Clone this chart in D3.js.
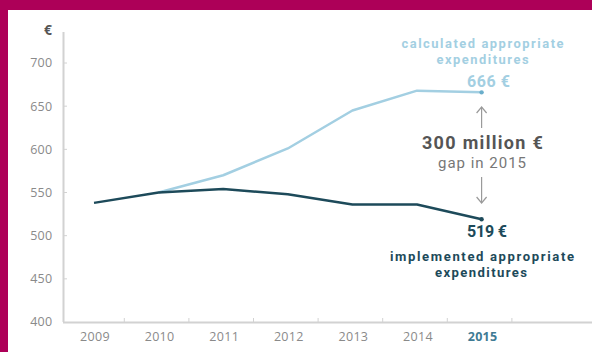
<!DOCTYPE html>
<html>
<head>
<meta charset="utf-8">
<script src="https://cdn.jsdelivr.net/npm/d3@7"></script>
<style>
  html, body { margin: 0; padding: 0; background: #ad0058; }
  svg { display: block; }
  text { font-family: "Open Sans", "DejaVu Sans", sans-serif; }
  .ann text { font-family: Roboto, "Open Sans", sans-serif; }
</style>
</head>
<body>
<svg id="chart" width="592" height="352"></svg>
<script>
const years = [2009, 2010, 2011, 2012, 2013, 2014, 2015];
const calculated = [null, 550, 570, 601, 645, 668, 666];
const implemented = [538, 550, 554, 548, 536, 536, 519];
const yTicks = [400, 450, 500, 550, 600, 650, 700];

const svg = d3.select("#chart");
const W = 592, H = 352;

// white panel inside magenta frame
svg.append("rect").attr("x", 8).attr("y", 10).attr("width", W - 8).attr("height", H - 10).attr("fill", "#ffffff");

const x = d3.scalePoint().domain(years).range([94, 481.6]);
const y = d3.scaleLinear().domain([400, 700]).range([322, 63]);
const step = x.step();

const axisCol = "#d2d2d2";
const tickTextCol = "#8a8a8a";
const lightCol = "#a3cfe2";
const darkCol = "#1d4a5a";

// y axis
svg.append("line").attr("x1", 63.5).attr("x2", 63.5).attr("y1", 32).attr("y2", 322)
  .attr("stroke", axisCol).attr("stroke-width", 2);
const yg = svg.append("g");
yg.selectAll("line.yt").data(yTicks.slice(1)).join("line")
  .attr("x1", 63).attr("x2", 67).attr("y1", d => y(d)).attr("y2", d => y(d))
  .attr("stroke", axisCol).attr("stroke-width", 1);
yg.selectAll("text").data(yTicks).join("text")
  .attr("x", 52.5).attr("y", d => y(d)).attr("dy", "0.35em")
  .attr("text-anchor", "end").attr("font-size", 12.5).attr("letter-spacing", 0.3).attr("fill", tickTextCol)
  .text(d => d);
svg.append("text").attr("x", 52).attr("y", 35).attr("text-anchor", "end")
  .attr("font-size", 14).attr("font-weight", "bold").attr("fill", "#555").text("€");

// x axis
svg.append("line").attr("x1", 63).attr("x2", W).attr("y1", 322.5).attr("y2", 322.5)
  .attr("stroke", axisCol).attr("stroke-width", 2);
svg.append("g").selectAll("line").data(years).join("line")
  .attr("x1", d => x(d) + step / 2 - 2).attr("x2", d => x(d) + step / 2 - 2)
  .attr("y1", 318).attr("y2", 322).attr("stroke", axisCol).attr("stroke-width", 1);
svg.append("g").selectAll("text").data(years).join("text")
  .attr("x", d => x(d) + 1).attr("y", 337).attr("dy", "0.35em")
  .attr("text-anchor", "middle").attr("font-size", 12.5).attr("letter-spacing", 0.3)
  .attr("font-weight", d => d === 2015 ? "bold" : "normal")
  .attr("fill", d => d === 2015 ? "#3f7b94" : tickTextCol)
  .text(d => d);

// lines
const line = d3.line().defined(d => d[1] != null).x(d => x(d[0])).y(d => y(d[1]));
const calcData = years.map((yr, i) => [yr, calculated[i]]);
const implData = years.map((yr, i) => [yr, implemented[i]]);
svg.append("path").datum(calcData).attr("d", line).attr("fill", "none")
  .attr("stroke", lightCol).attr("stroke-width", 2.5).attr("stroke-linejoin", "round");
svg.append("path").datum(implData).attr("d", line).attr("fill", "none")
  .attr("stroke", darkCol).attr("stroke-width", 2.5).attr("stroke-linejoin", "round");

const last = years.length - 1;
const xl = x(years[last]);
svg.append("circle").attr("cx", xl).attr("cy", y(calculated[last])).attr("r", 2.2).attr("fill", "#6aaecb");
svg.append("circle").attr("cx", xl).attr("cy", y(implemented[last])).attr("r", 2.2).attr("fill", darkCol);

// annotations
const ann = svg.append("g").attr("class", "ann").attr("text-anchor", "middle").attr("font-weight", "bold");
function label(txt, cx, base, size, width, fill, weight) {
  ann.append("text").attr("x", cx).attr("y", base).attr("font-size", size)
    .attr("fill", fill).attr("font-weight", weight || "bold")
    .attr("textLength", width).attr("lengthAdjust", "spacing").text(txt);
}
label("calculated appropriate", 482.5, 48.3, 12.9, 162, lightCol);
label("expenditures", 482.5, 63.6, 12.9, 92, lightCol);
label("666 €", 488.5, 87, 16, 43, lightCol);
label("300 million €", 482.4, 149, 18, 121, "#555");
label("gap in 2015", 482, 168.2, 15, 88, "#777", "normal");
label("519 €", 487, 237, 16, 40, darkCol);
label("implemented appropriate", 482, 261, 13.1, 184, darkCol);
label("expenditures", 481, 276.5, 13.1, 92, darkCol);

// arrows
const arrCol = "#9a9a9a";
function arrow(x0, yFrom, yTo) {
  const dir = yTo > yFrom ? 1 : -1;
  svg.append("line").attr("x1", x0).attr("x2", x0).attr("y1", yFrom).attr("y2", yTo)
    .attr("stroke", arrCol).attr("stroke-width", 1.2);
  svg.append("path")
    .attr("d", `M${x0 - 5},${yTo - dir * 6} L${x0},${yTo} L${x0 + 5},${yTo - dir * 6}`)
    .attr("fill", "none").attr("stroke", arrCol).attr("stroke-width", 1.2);
}
arrow(xl, 128, 107);
arrow(xl, 177, 203);
</script>
</body>
</html>
